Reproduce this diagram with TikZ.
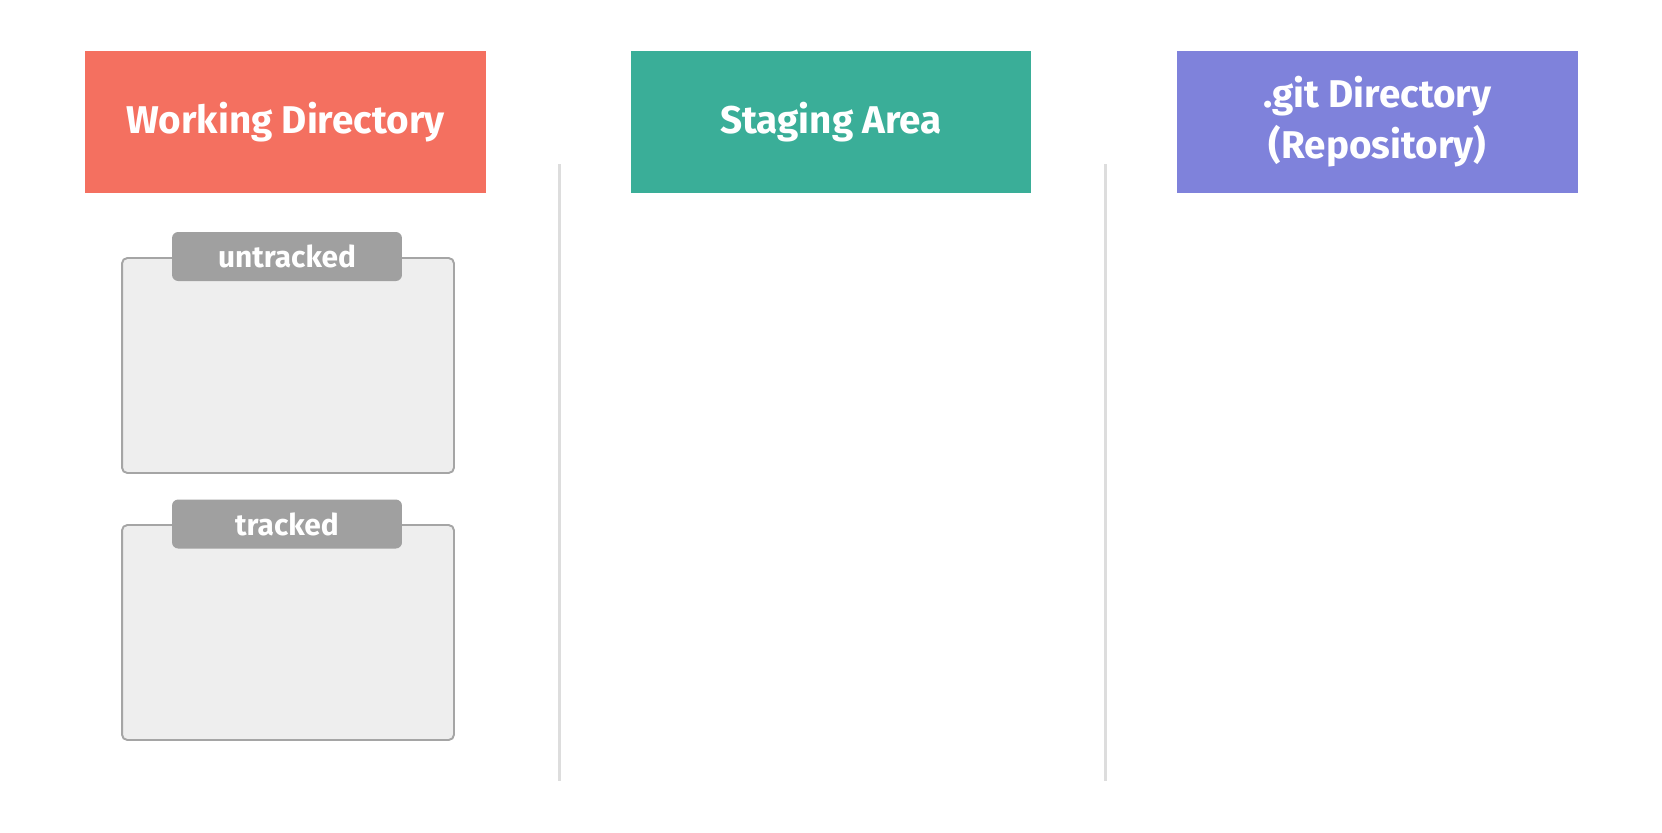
\documentclass[tikz,border=0pt]{standalone}
\usepackage{fontspec}
\setmainfont{Fira Sans}
\definecolor{wdred}{RGB}{244,112,96}
\definecolor{stgreen}{RGB}{58,174,152}
\definecolor{gitblue}{RGB}{127,130,219}
\definecolor{tabgray}{RGB}{160,160,160}
\definecolor{boxgray}{RGB}{238,238,238}
\definecolor{linegray}{RGB}{165,165,165}
\definecolor{sepgray}{RGB}{221,221,221}
\tikzset{
  header/.style={fill=#1, text=white, minimum width=8.02cm, minimum height=2.84cm,
    align=center, font=\fontsize{22}{29}\selectfont\bfseries, inner sep=0pt},
  filebox/.style={fill=boxgray, draw=linegray, line width=1.1pt, rounded corners=3pt,
    minimum width=6.64cm, minimum height=4.3cm, inner sep=0pt},
  filetab/.style={fill=tabgray, text=white, rounded corners=3.5pt, minimum width=4.6cm,
    minimum height=0.98cm, inner sep=0pt, font=\fontsize{17}{20}\selectfont\bfseries},
}

\begin{document}
\begin{tikzpicture}[x=0.02cm,y=-0.02cm]
   \useasboundingbox (0,0) rectangle (1662,832);
   % column headers
   \node[header=wdred]   (work)  at (285.5,122) {Working Directory};
   \node[header=stgreen] (stage) at (831,122)   {Staging Area};
   \node[header=gitblue] (repo)  at (1377.5,122) {.git Directory\\(Repository)};
   % separators
   \coordinate (s1top) at (559,164);
   \coordinate (s1bot) at (559,781);
   \coordinate (s2top) at (1105,164);
   \coordinate (s2bot) at (1105,781);
   \draw[sepgray, line width=1.7pt] (s1top) -- (s1bot);
   \draw[sepgray, line width=1.7pt] (s2top) -- (s2bot);
   % file boxes
   \node[filebox] (untrackedbox) at (288,365.5) {};
   \node[filetab] (untrackedtab) at (287,256.5) {untracked};
   \node[filebox] (trackedbox)   at (288,632.5) {};
   \node[filetab] (trackedtab)   at (287,524)   {tracked};
\end{tikzpicture}
\end{document}
